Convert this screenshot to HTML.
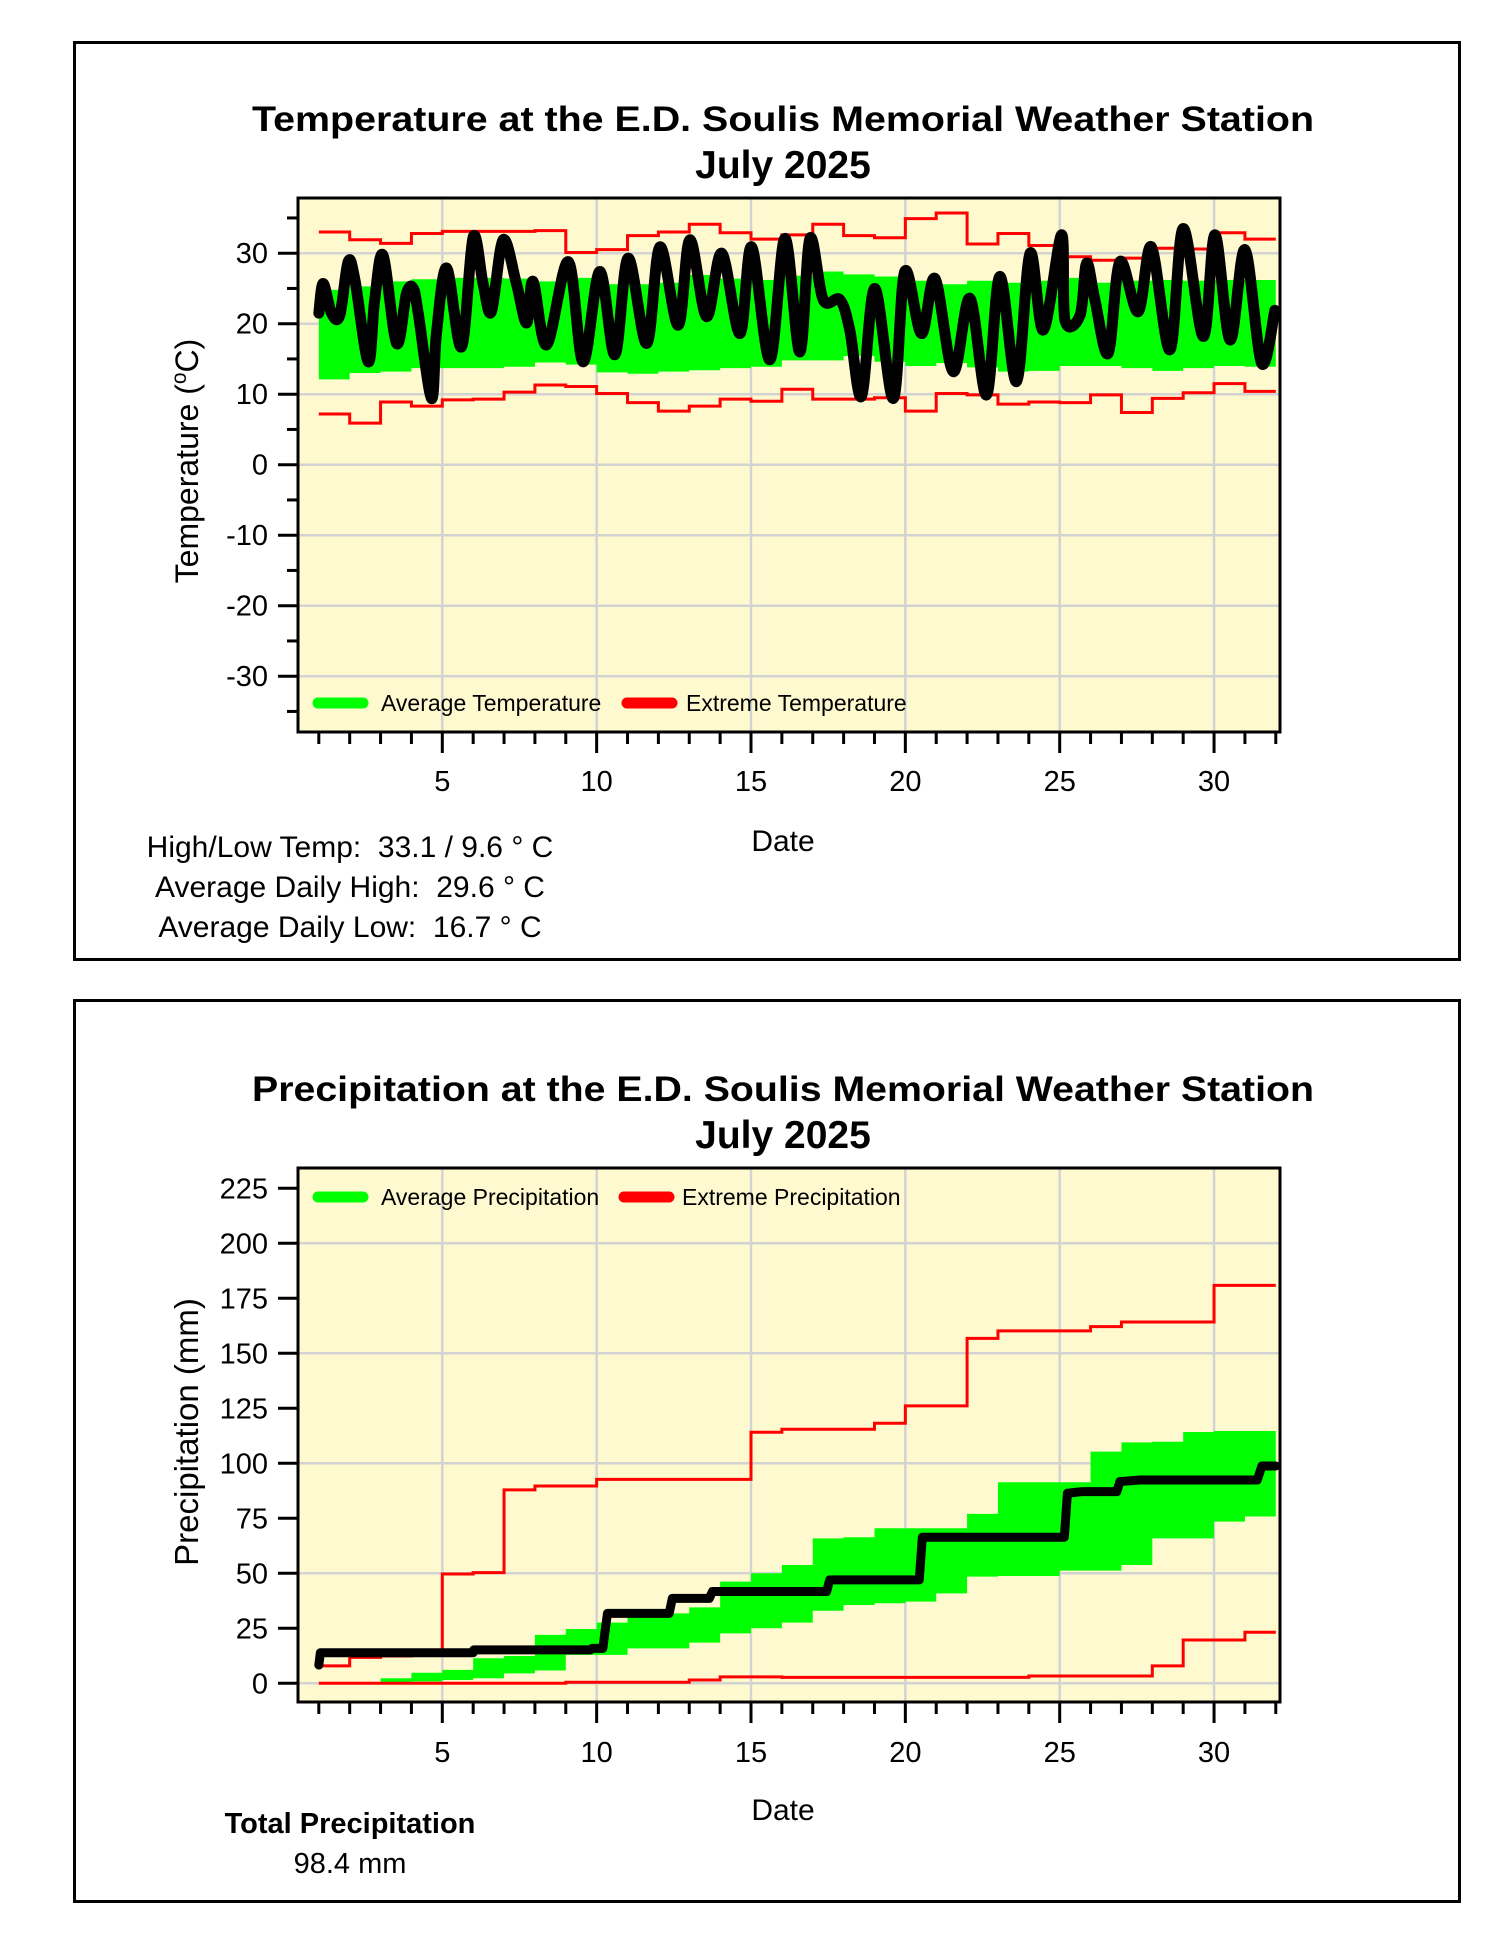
<!DOCTYPE html>
<html><head><meta charset="utf-8"><style>
html,body{margin:0;padding:0;background:#fff;}
svg{display:block;font-family:"Liberation Sans",Arial,sans-serif;}
.pre{white-space:pre;}
</style></head><body>
<svg id="s" xmlns="http://www.w3.org/2000/svg" width="1500" height="1941" viewBox="0 0 1500 1941">
<rect x="0" y="0" width="1500" height="1941" fill="#fff"/>
<rect x="74.5" y="42.5" width="1385" height="917" fill="none" stroke="#000" stroke-width="3"/>
<rect x="74.5" y="1000.5" width="1385" height="901" fill="none" stroke="#000" stroke-width="3"/>
<text x="783" y="131" text-anchor="middle" font-size="35" font-weight="bold" textLength="1062" lengthAdjust="spacingAndGlyphs">Temperature at the E.D. Soulis Memorial Weather Station</text>
<text x="783" y="178" text-anchor="middle" font-size="39" font-weight="bold">July 2025</text>
<text x="783" y="1101" text-anchor="middle" font-size="35" font-weight="bold" textLength="1062" lengthAdjust="spacingAndGlyphs">Precipitation at the E.D. Soulis Memorial Weather Station</text>
<text x="783" y="1148" text-anchor="middle" font-size="39" font-weight="bold">July 2025</text>
<g id="tplot"></g>
<g id="pplot"></g>
<text x="783" y="851" text-anchor="middle" font-size="30">Date</text>
<text x="783" y="1820" text-anchor="middle" font-size="30">Date</text>
<text transform="translate(198,461) rotate(-90)" text-anchor="middle" font-size="32">Temperature (<tspan font-size="21" dy="-12">o</tspan><tspan dy="12">C)</tspan></text>
<text transform="translate(198,1432) rotate(-90)" text-anchor="middle" font-size="33">Precipitation (mm)</text>
<g font-size="30" text-anchor="middle">
<text class="pre" x="350" y="857">High/Low Temp:  33.1 / 9.6 ° C</text>
<text class="pre" x="350" y="897">Average Daily High:  29.6 ° C</text>
<text class="pre" x="350" y="937">Average Daily Low:  16.7 ° C</text>
</g>
<text x="350" y="1833" text-anchor="middle" font-size="29" font-weight="bold">Total Precipitation</text>
<text x="350" y="1873" text-anchor="middle" font-size="29">98.4 mm</text>
</svg>
<script>
// ---- Temperature data (per day 1..31) ----
const tExtHigh=[33.0,31.9,31.4,32.8,33.1,33.1,33.1,33.2,30.1,30.5,32.5,33.0,34.1,32.9,32.0,32.6,34.1,32.5,32.2,34.9,35.7,31.3,32.8,31.1,29.5,29.0,29.3,30.7,30.6,32.9,32.0];
const tExtLow=[7.2,5.9,8.9,8.3,9.2,9.3,10.3,11.3,11.1,10.1,8.8,7.6,8.3,9.3,9.0,10.7,9.3,9.3,9.5,7.6,10.1,9.9,8.6,8.9,8.8,9.9,7.4,9.4,10.2,11.5,10.4];
const tAvgHigh=[24.8,25.3,26.0,26.3,26.5,26.5,26.4,26.0,26.5,25.6,25.6,25.8,26.9,26.4,26.2,26.8,27.4,27.0,26.7,26.1,25.6,26.1,25.8,26.1,26.5,25.8,26.1,26.2,26.1,26.2,26.2];
const tAvgLow=[12.1,13.0,13.2,13.7,13.7,13.7,13.9,14.5,14.2,13.1,12.9,13.2,13.4,13.7,13.9,14.8,14.8,15.4,14.6,14.0,14.4,13.8,13.2,13.3,14.0,14.0,13.7,13.3,13.7,14.0,13.9];
const tObsDay=[1.0,1.14,1.41,1.68,1.95,2.17,2.6,2.81,3.08,3.52,3.84,4.06,4.22,4.65,4.81,5.14,5.62,6.0,6.32,6.59,6.97,7.4,7.73,7.94,8.38,9.08,9.56,10.1,10.59,11.02,11.62,12.05,12.64,13.02,13.56,14.05,14.64,15.02,15.61,16.1,16.58,16.91,17.34,17.88,18.2,18.58,19.01,19.61,19.98,20.52,20.96,21.55,22.09,22.63,23.06,23.6,24.04,24.47,25.06,25.17,25.66,25.87,26.14,26.57,26.95,27.54,27.97,28.57,29.0,29.65,30.03,30.52,31.0,31.54,31.97];
const tObsVal=[21.5,25.7,21.5,21.2,28.8,26.2,14.6,23.4,29.7,17.2,24.3,25.0,21.5,9.4,18.6,27.9,16.7,32.3,25.7,21.7,31.9,25.7,20.1,26.0,17.0,28.8,14.6,27.4,15.6,29.3,17.2,30.9,19.8,31.9,21.0,30.0,18.6,30.9,14.9,32.1,16.0,32.1,23.4,23.4,19.1,9.7,25.0,9.4,27.4,18.6,26.4,13.2,23.6,9.9,26.7,11.8,30.0,19.1,32.6,20.5,21.2,28.6,23.4,15.8,28.8,21.7,30.9,16.3,33.5,18.2,32.6,17.7,30.5,14.4,21.9];
const tTicks=[-30,-20,-10,0,10,20,30];
const tMinor=[-35,-25,-15,-5,5,15,25,35];
const tGrid=[-30,-20,-10,0,10,20,30];
// ---- Precipitation data ----
const pExtHigh=[7.9,11.8,12.4,13.3,49.7,50.3,87.9,89.7,89.7,92.7,92.7,92.7,92.7,92.7,114.1,115.5,115.5,115.5,118.2,126.1,126.1,156.8,160.2,160.2,160.2,162.1,164.2,164.2,164.2,180.9,180.9];
const pExtLow=[0,0,0,0,0,0,0,0,0.5,0.5,0.5,0.5,1.5,2.9,2.9,2.7,2.7,2.7,2.7,2.7,2.7,2.7,2.7,3.3,3.3,3.3,3.3,7.9,19.7,19.7,23.2];
const pAvgHigh=[0,0,2.3,4.8,6.1,11.4,12.4,22.0,24.7,27.6,30.3,31.8,34.5,46.2,50.0,53.8,65.9,66.4,70.5,70.5,70.5,77.0,91.4,91.4,91.4,105.3,109.5,109.8,114.2,114.7,114.7];
const pAvgLow=[0,0,0,0.8,1.5,2.3,4.5,5.8,12.9,12.9,15.9,15.9,18.5,22.7,25.0,27.6,33.0,35.6,36.4,37.1,40.9,48.5,48.8,48.8,51.2,51.2,53.8,65.9,65.9,73.5,75.8];
const pObsDay=[1.0,1.05,6.0,6.02,9.8,9.85,10.2,10.35,12.35,12.45,13.65,13.75,17.45,17.55,20.45,20.55,25.15,25.25,25.7,26.85,26.95,27.6,31.4,31.55,32.0];
const pObsVal=[8.3,13.9,13.9,15.2,15.2,15.9,15.9,31.8,31.8,38.6,38.6,41.7,41.7,47.0,47.0,66.4,66.4,86.4,87.1,87.1,91.7,92.4,92.4,98.8,98.8];
const pTicks=[0,25,50,75,100,125,150,175,200,225];
const pGrid=[0,50,100,150,200];
const xMajor=[5,10,15,20,25,30];
const xMinor=[1,2,3,4,6,7,8,9,11,12,13,14,16,17,18,19,21,22,23,24,26,27,28,29,31,32];

const NS='http://www.w3.org/2000/svg';
const X0=298,X1=1280;
function xs(d){return 442.3+(d-5)*30.87;}
function yT(t){return 464.7-t*7.05;}
function yP(p){return 1683.3-p*2.2;}
function mk(parent,tag,attrs){const e=document.createElementNS(NS,tag);for(const k in attrs)e.setAttribute(k,attrs[k]);parent.appendChild(e);return e;}
function stepPts(vals,ys){let pts=[];vals.forEach((v,i)=>{pts.push(xs(i+1)+','+ys(v));pts.push(xs(i+2)+','+ys(v));});return pts;}
function band(hi,lo,ys){const top=stepPts(hi,ys);const bot=stepPts(lo,ys).reverse();return top.concat(bot).join(' ');}
function smooth(ds,vs,ys){let p=ds.map((d,i)=>[xs(d),ys(vs[i])]);let s='M'+p[0][0]+','+p[0][1];for(let i=0;i<p.length-1;i++){const p0=p[i-1]||p[i],p1=p[i],p2=p[i+1],p3=p[i+2]||p2;const c1x=p1[0]+(p2[0]-p0[0])/6,c1y=p1[1]+(p2[1]-p0[1])/6,c2x=p2[0]-(p3[0]-p1[0])/6,c2y=p2[1]-(p3[1]-p1[1])/6;s+=' C'+c1x+','+c1y+' '+c2x+','+c2y+' '+p2[0]+','+p2[1];}return s;}

function axes(g,top,bot,ys,grid,prefix){
  mk(g,'rect',{x:X0,y:top,width:X1-X0,height:bot-top,fill:'#fff9d0'});
  grid.forEach(v=>{const l=mk(g,'line',{x1:X0,x2:X1,y1:ys(v),y2:ys(v),stroke:'#d3d3d3','stroke-width':2.5});
    
    });
  xMajor.forEach(d=>{const l=mk(g,'line',{x1:xs(d),x2:xs(d),y1:top,y2:bot,stroke:'#d3d3d3','stroke-width':2.5});
    
    });
}
function frame(g,top,bot,ys,ticks,minor,xLabelY,prefix){
  const f=mk(g,'rect',{x:X0,y:top,width:X1-X0,height:bot-top,fill:'none',stroke:'#000','stroke-width':3});
  
  
  ticks.forEach(v=>{mk(g,'line',{x1:X0-20,x2:X0,y1:ys(v),y2:ys(v),stroke:'#000','stroke-width':3});
    const t=mk(g,'text',{x:268,y:ys(v)+10,'text-anchor':'end','font-size':29});t.textContent=v;
    
    });
  minor.forEach(v=>{mk(g,'line',{x1:X0-11,x2:X0,y1:ys(v),y2:ys(v),stroke:'#000','stroke-width':3});});
  xMinor.forEach(d=>{mk(g,'line',{x1:xs(d),x2:xs(d),y1:bot,y2:bot+12,stroke:'#000','stroke-width':3});});
  xMajor.forEach(d=>{mk(g,'line',{x1:xs(d),x2:xs(d),y1:bot,y2:bot+21,stroke:'#000','stroke-width':3});
    const t=mk(g,'text',{x:xs(d),y:xLabelY,'text-anchor':'middle','font-size':29});t.textContent=d;
    
    });
}
function legend(g,y,l1,l2,rx,tx){
  mk(g,'line',{x1:318,x2:363,y1:y,y2:y,stroke:'#00ff00','stroke-width':11,'stroke-linecap':'round'});
  const a=mk(g,'text',{x:381,y:y+8,'font-size':23});a.textContent=l1;
  
  
  mk(g,'line',{x1:rx,x2:rx+45,y1:y,y2:y,stroke:'#ff0000','stroke-width':11,'stroke-linecap':'round'});
  const b=mk(g,'text',{x:tx,y:y+8,'font-size':23});b.textContent=l2;
  
  
}

// Temperature
const tg=document.getElementById('tplot');
axes(tg,198,732,yT,tGrid,'temperature');
let e=mk(tg,'polygon',{points:band(tAvgHigh,tAvgLow,yT),fill:'#00ff00'});


e=mk(tg,'polyline',{points:stepPts(tExtHigh,yT).join(' '),fill:'none',stroke:'#ff0000','stroke-width':3});


e=mk(tg,'polyline',{points:stepPts(tExtLow,yT).join(' '),fill:'none',stroke:'#ff0000','stroke-width':3});


e=mk(tg,'path',{d:smooth(tObsDay,tObsVal,yT),fill:'none',stroke:'#000','stroke-width':11,'stroke-linejoin':'round','stroke-linecap':'round'});


legend(tg,703,'Average Temperature','Extreme Temperature',627,686);
frame(tg,198,732,yT,tTicks,tMinor,791,'temperature');

// Precipitation
const pg=document.getElementById('pplot');
axes(pg,1168,1702,yP,pGrid,'precipitation');
e=mk(pg,'polygon',{points:band(pAvgHigh,pAvgLow,yP),fill:'#00ff00'});


e=mk(pg,'polyline',{points:stepPts(pExtHigh,yP).join(' '),fill:'none',stroke:'#ff0000','stroke-width':3});


e=mk(pg,'polyline',{points:stepPts(pExtLow,yP).join(' '),fill:'none',stroke:'#ff0000','stroke-width':3});


e=mk(pg,'polyline',{points:pObsDay.map((d,i)=>xs(d)+','+yP(pObsVal[i])).join(' '),fill:'none',stroke:'#000','stroke-width':9,'stroke-linejoin':'round','stroke-linecap':'round'});


legend(pg,1197,'Average Precipitation','Extreme Precipitation',624,682);
frame(pg,1168,1702,yP,pTicks,[],1762,'precipitation');
</script>
</body></html>
